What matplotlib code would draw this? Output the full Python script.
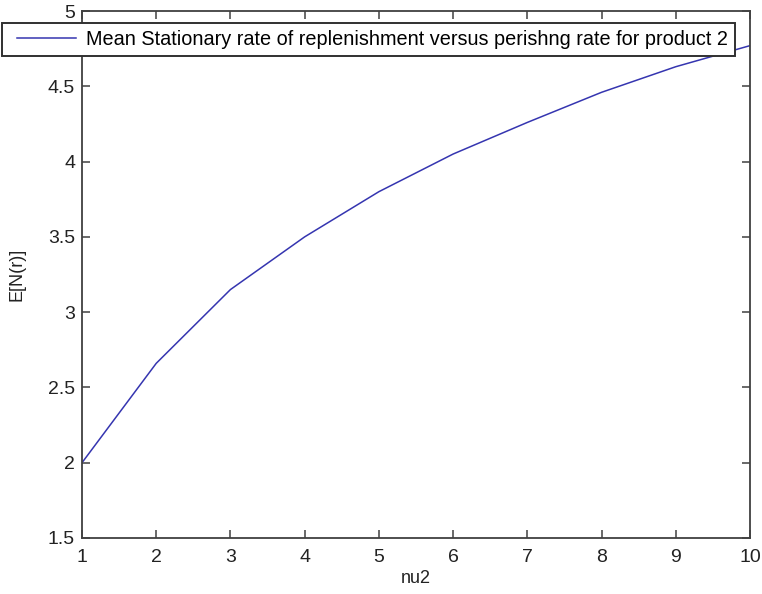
import matplotlib
matplotlib.use("Agg")
import matplotlib.pyplot as plt
import numpy as np
from matplotlib.legend_handler import HandlerLine2D

plt.rcParams['font.family'] = ['Liberation Sans', 'DejaVu Sans']

nu2 = [1, 2, 3, 4, 5, 6, 7, 8, 9, 10]
mean_rate = [2.0, 2.66, 3.15, 3.50, 3.80, 4.05, 4.26, 4.46, 4.63, 4.77]
xticks = [1, 2, 3, 4, 5, 6, 7, 8, 9, 10]
yticks = [1.5, 2, 2.5, 3, 3.5, 4, 4.5, 5]
ytick_labels = ['1.5', '2', '2.5', '3', '3.5', '4', '4.5', '5']
legend_label = 'Mean Stationary rate of replenishment versus perishng rate for product 2'

W, H = 762, 594
fig = plt.figure(figsize=(W/100, H/100), dpi=100)
ax = fig.add_axes([82/W, 1-538/H, (750-82)/W, (538-11)/H])

ax.plot(nu2, mean_rate, color='#3535b0', lw=1.1, label=legend_label)
ax.set_xlim(1, 10)
ax.set_ylim(1.5, 5)
ax.set_xticks(xticks)
ax.set_yticks(yticks)
ax.set_yticklabels(ytick_labels)

spine_c = '#404040'
for s in ax.spines.values():
    s.set_color(spine_c)
    s.set_linewidth(1.3)
ax.tick_params(direction='in', length=6, width=1.1, color=spine_c,
               top=True, right=True, labelsize=14, labelcolor='#222222')
ax.tick_params(axis='x', pad=8)
ax.tick_params(axis='y', pad=5)

ax.set_xlabel('nu2', fontsize=13, color='#222222', labelpad=3)
ax.set_ylabel('E[N(r)]', fontsize=13, color='#222222', labelpad=16)

LEG_FS = 14.3
OFFSET_PX = 8.0


class ShiftedHandler(HandlerLine2D):
    def get_xdata(self, legend, xdescent, ydescent, width, height, fontsize):
        xdata, xdata_marker = super().get_xdata(legend, xdescent, ydescent,
                                                width, height, fontsize)
        off = OFFSET_PX * 72.0 / fig.dpi
        xdata = np.array(xdata, dtype=float)
        xdata[0] = xdata[0] + off
        return xdata, xdata_marker


leg = ax.legend(loc='upper left',
                bbox_to_anchor=(2/W, 1-58/H, (735-2)/W, 35/H),
                bbox_transform=fig.transFigure, mode='expand',
                borderaxespad=0, fancybox=False, framealpha=1,
                fontsize=LEG_FS, handlelength=3.4, handletextpad=0.5,
                borderpad=0.35,
                handler_map={matplotlib.lines.Line2D: ShiftedHandler()})
leg.get_frame().set_edgecolor('#303030')
leg.get_frame().set_linewidth(1.4)

fig.savefig('out.png', dpi=100)
